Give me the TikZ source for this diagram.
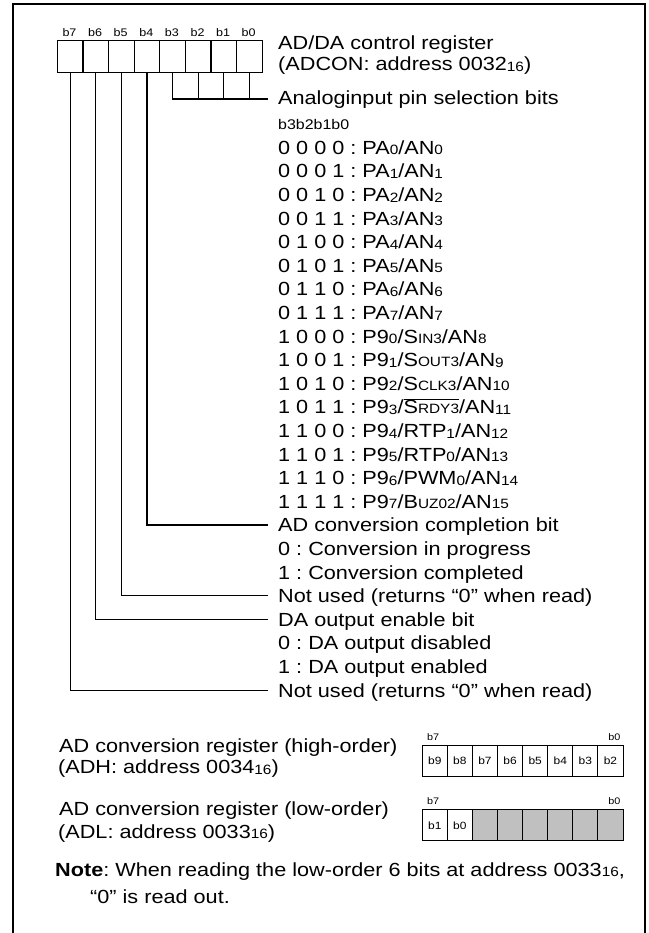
\documentclass[tikz,border=0pt]{standalone}
\usepackage{fontspec}
\setmainfont{Liberation Sans}[FakeStretch=1.14]
\definecolor{shade}{RGB}{192,192,192}
\newcommand\sbs[1]{\raisebox{-0.6pt}{\fontsize{13.5}{14}\selectfont #1}}
\newcommand\smc[1]{{\fontsize{13.5}{14}\selectfont #1}}
\frenchspacing
\begin{document}
\begin{tikzpicture}[x=1pt,y=-1pt,
  txt/.style={anchor=base west, inner sep=0pt, font=\fontsize{19}{22}\selectfont},
  smalltxt/.style={anchor=base west, inner sep=0pt, font=\fontsize{14}{16}\selectfont},
  cell/.style={draw, line width=1.2pt, minimum width=25.6pt, minimum height=31.7pt, inner sep=0pt, anchor=north west},
  bcell/.style={draw, line width=1pt, minimum width=25.1pt, minimum height=31pt, inner sep=0pt, anchor=north west, font=\fontsize{10.5}{12}\selectfont},
  blab/.style={inner sep=0pt, font=\fontsize{11}{12}\selectfont, anchor=base},
  rlab/.style={inner sep=0pt, font=\fontsize{9.5}{11}\selectfont},
  conn/.style={line width=1.2pt},
  frame/.style={line width=2.2pt}]
\useasboundingbox (0,0) rectangle (648,933);
\draw[frame] (13,934) -- (13,4) -- (645,4) -- (645,934);

% top register
\foreach \n [count=\i from 0] in {7,6,5,4,3,2,1,0} {
  \node[cell] (r\n) at ({56.7+25.6*\i},40) {};
  \node[blab] (lb\n) at ({56.7+25.6*\i+12.8},36.7) {b\n};
}

% titles
\node[txt] (title1) at (278,50) {AD/DA control register};
\node[txt] (title2) at (278,71) {(ADCON: address 0032\sbs{16})};
\node[txt] (sel) at (278,105) {Analoginput pin selection bits};
\node[smalltxt] (hdr) at (278,130) {b3b2b1b0};

\node[txt] (t0) at (278,154.3) {0 0 0 0 : PA\sbs{0}/AN\sbs{0}};
\node[txt] (t1) at (278,177.9) {0 0 0 1 : PA\sbs{1}/AN\sbs{1}};
\node[txt] (t2) at (278,201.5) {0 0 1 0 : PA\sbs{2}/AN\sbs{2}};
\node[txt] (t3) at (278,225.1) {0 0 1 1 : PA\sbs{3}/AN\sbs{3}};
\node[txt] (t4) at (278,248.7) {0 1 0 0 : PA\sbs{4}/AN\sbs{4}};
\node[txt] (t5) at (278,272.3) {0 1 0 1 : PA\sbs{5}/AN\sbs{5}};
\node[txt] (t6) at (278,295.9) {0 1 1 0 : PA\sbs{6}/AN\sbs{6}};
\node[txt] (t7) at (278,319.5) {0 1 1 1 : PA\sbs{7}/AN\sbs{7}};
\node[txt] (t8) at (278,343.1) {1 0 0 0 : P9\sbs{0}/S\smc{IN3}/AN\sbs{8}};
\node[txt] (t9) at (278,366.7) {1 0 0 1 : P9\sbs{1}/S\smc{OUT3}/AN\sbs{9}};
\node[txt] (t10) at (278,390.3) {1 0 1 0 : P9\sbs{2}/S\smc{CLK3}/AN\sbs{10}};
\node[txt] (t11) at (278,413.9) {1 0 1 1 : P9\sbs{3}/$\overline{\mbox{S\smc{RDY3}}}$/AN\sbs{11}};
\node[txt] (t12) at (278,437.5) {1 1 0 0 : P9\sbs{4}/RTP\sbs{1}/AN\sbs{12}};
\node[txt] (t13) at (278,461.1) {1 1 0 1 : P9\sbs{5}/RTP\sbs{0}/AN\sbs{13}};
\node[txt] (t14) at (278,484.7) {1 1 1 0 : P9\sbs{6}/PWM\sbs{0}/AN\sbs{14}};
\node[txt] (t15) at (278,508.3) {1 1 1 1 : P9\sbs{7}/B\smc{UZ02}/AN\sbs{15}};
\node[txt] (t16) at (278,531.9) {AD conversion completion bit};
\node[txt] (t17) at (278,555.5) {0 : Conversion in progress};
\node[txt] (t18) at (278,579.1) {1 : Conversion completed};
\node[txt] (t19) at (278,602.7) {Not used (returns “0” when read)};
\node[txt] (t20) at (278,626.3) {DA output enable bit};
\node[txt] (t21) at (278,649.9) {0 : DA output disabled};
\node[txt] (t22) at (278,673.5) {1 : DA output enabled};
\node[txt] (t23) at (278,697.1) {Not used (returns “0” when read)};

% connectors
\coordinate (eA) at (268,99);
\coordinate (e16) at (268,524.9);
\coordinate (e19) at (268,595.7);
\coordinate (e20) at (268,619.3);
\coordinate (e23) at (268,690.1);
\draw[conn] (r3.south) |- (eA);
\foreach \n in {2,1,0} \draw[conn] (r\n.south) -- (r\n.south |- eA);
\draw[conn] (r4.south) |- (e16);
\draw[conn] (r5.south) |- (e19);
\draw[conn] (r6.south) |- (e20);
\draw[conn] (r7.south) |- (e23);

% AD conversion registers
\node[txt] (hi1) at (59,752) {AD conversion register (high-order)};
\node[txt] (hi2) at (58,773.5) {(ADH: address 0034\sbs{16})};
\node[txt] (lo1) at (59,815.7) {AD conversion register (low-order)};
\node[txt] (lo2) at (58,838) {(ADL: address 0033\sbs{16})};

\foreach \n [count=\i from 0] in {9,8,7,6,5,4,3,2}
  \node[bcell] (h\i) at ({421.7+25.1*\i},745) {b\n};
\node[rlab, anchor=base west] (hb7) at (427,740) {b7};
\node[rlab, anchor=base east] (hb0) at (620.5,740) {b0};

\node[bcell] (l0) at (421.7,809.3) {b1};
\node[bcell] (l1) at (446.8,809.3) {b0};
\foreach \i in {2,...,7}
  \node[bcell, fill=shade] (l\i) at ({421.7+25.1*\i},809.3) {};
\node[rlab, anchor=base west] (lb7) at (427,804.5) {b7};
\node[rlab, anchor=base east] (lb0) at (620.5,804.5) {b0};

% note
\node[txt] (note1) at (55,876) {\textbf{Note}: When reading the low-order 6 bits at address 0033\sbs{16},};
\node[txt] (note2) at (90,903) {“0” is read out.};
\end{tikzpicture}
\end{document}
